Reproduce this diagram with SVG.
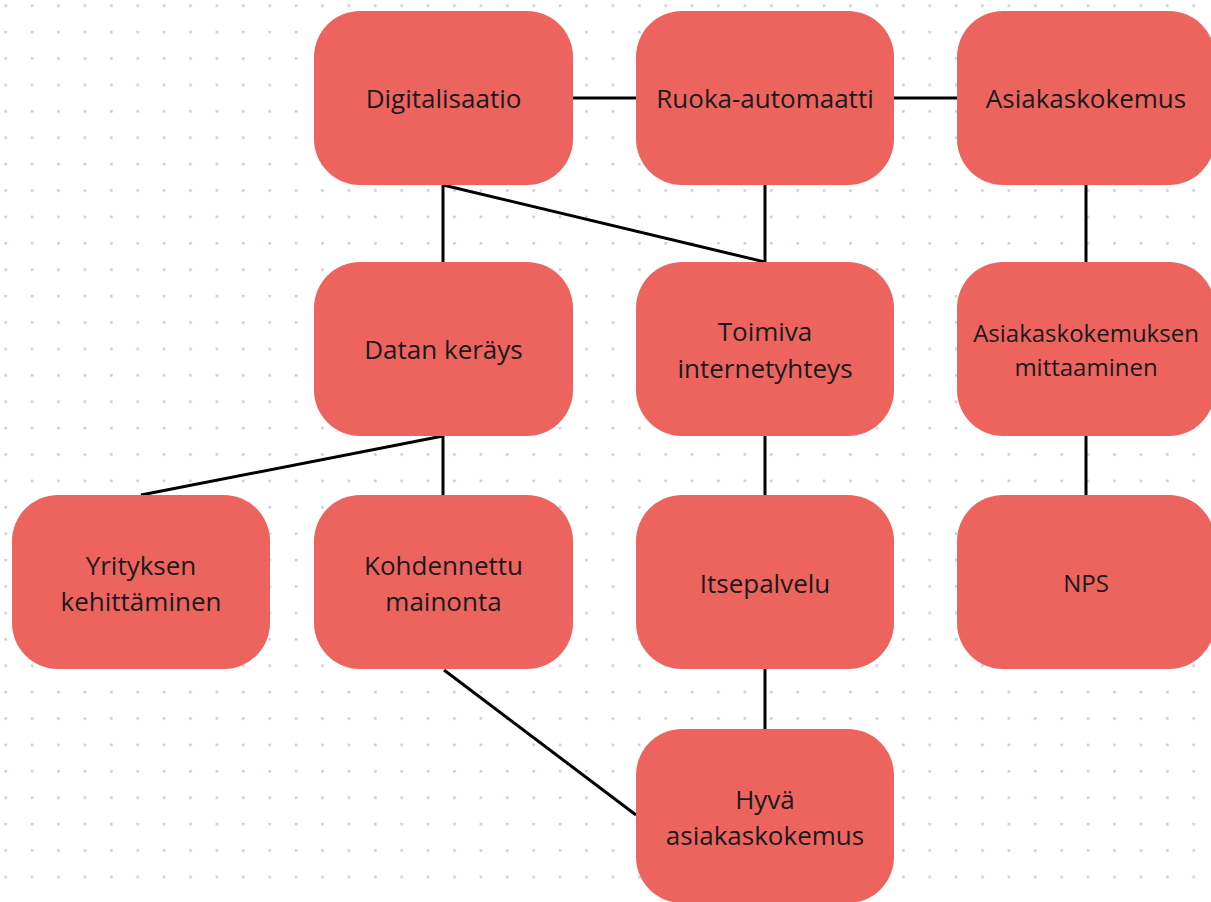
<svg xmlns="http://www.w3.org/2000/svg" width="1211" height="902" viewBox="0 0 1211 902">
<style>
.node rect{fill:#ED645F;}
.node text{font-family:"Open Sans","Noto Sans",sans-serif;font-size:26px;fill:#1a1a1a;text-anchor:middle;}
.node text.sm{font-size:24px;}
.conn line{stroke:#000;stroke-width:3;stroke-linecap:butt;}
</style>
<defs>
<pattern id="dots" x="4.4" y="4.4" width="26.4" height="26.4" patternUnits="userSpaceOnUse">
<rect x="0" y="0" width="2.6" height="2.6" fill="#c9ceD7"/>
</pattern>
</defs>
<rect width="1211" height="902" fill="#ffffff"/>
<rect width="1211" height="902" fill="url(#dots)"/>
<g id="connectors" class="conn">
<line x1="573" y1="98" x2="636" y2="98"/>
<line x1="894" y1="98" x2="957" y2="98"/>
<line x1="443" y1="185" x2="443" y2="262"/>
<line x1="443" y1="185" x2="765" y2="262"/>
<line x1="765" y1="185" x2="765" y2="262"/>
<line x1="1086" y1="185" x2="1086" y2="262"/>
<line x1="443" y1="436" x2="141" y2="495"/>
<line x1="443" y1="436" x2="443" y2="495"/>
<line x1="765" y1="436" x2="765" y2="495"/>
<line x1="1086" y1="436" x2="1086" y2="495"/>
<line x1="765" y1="669" x2="765" y2="729"/>
<line x1="444" y1="670" x2="636" y2="815"/>
</g>
<g id="n-digitalisaatio" class="node"><rect x="314" y="11" width="259" height="174" rx="46"/><text x="443.5" y="108">Digitalisaatio</text></g>
<g id="n-ruoka" class="node"><rect x="636" y="11" width="258" height="174" rx="46"/><text x="765" y="108">Ruoka-automaatti</text></g>
<g id="n-asiakaskokemus" class="node"><rect x="957" y="11" width="258" height="174" rx="46"/><text x="1086" y="108">Asiakaskokemus</text></g>
<g id="n-datan" class="node"><rect x="314" y="262" width="259" height="174" rx="46"/><text x="443.5" y="359">Datan keräys</text></g>
<g id="n-toimiva" class="node"><rect x="636" y="262" width="258" height="174" rx="46"/><text x="765" y="341">Toimiva</text><text x="765" y="378">internetyhteys</text></g>
<g id="n-mittaaminen" class="node"><rect x="957" y="262" width="258" height="174" rx="46"/><text class="sm" x="1086" y="342">Asiakaskokemuksen</text><text class="sm" x="1086" y="376">mittaaminen</text></g>
<g id="n-yrityksen" class="node"><rect x="12" y="495" width="258" height="174" rx="46"/><text x="141" y="575">Yrityksen</text><text x="141" y="611">kehittäminen</text></g>
<g id="n-kohdennettu" class="node"><rect x="314" y="495" width="259" height="174" rx="46"/><text x="443.5" y="575">Kohdennettu</text><text x="443.5" y="611">mainonta</text></g>
<g id="n-itsepalvelu" class="node"><rect x="636" y="495" width="258" height="174" rx="46"/><text x="765" y="593">Itsepalvelu</text></g>
<g id="n-nps" class="node"><rect x="957" y="495" width="258" height="174" rx="46"/><text class="sm" x="1086" y="592">NPS</text></g>
<g id="n-hyva" class="node"><rect x="636" y="729" width="258" height="174" rx="46"/><text x="765" y="809">Hyvä</text><text x="765" y="845">asiakaskokemus</text></g>
</svg>
